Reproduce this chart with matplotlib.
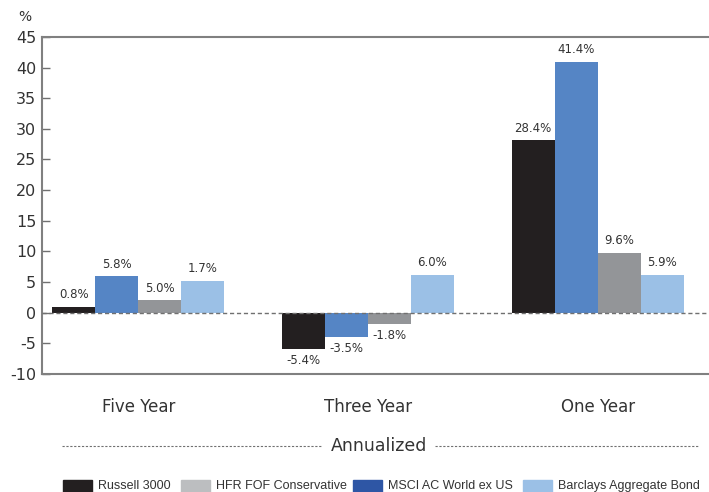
import matplotlib
matplotlib.use('Agg')
import numpy as np
import matplotlib.pyplot as plt
from matplotlib.patches import Rectangle
from matplotlib.lines import Line2D

# data (bar heights) and printed labels
periods = ['Five Year', 'Three Year', 'One Year']
series = ['Russell 3000', 'MSCI AC World ex US', 'HFR FOF Conservative', 'Barclays Aggregate Bond']
russell = [1.0, -5.9, 28.1]
msci = [5.9, -3.9, 40.9]
hfr = [2.0, -1.8, 9.8]
barclays = [5.2, 6.2, 6.2]
russell_lbl = ['0.8%', '-5.4%', '28.4%']
msci_lbl = ['5.8%', '-3.5%', '41.4%']
hfr_lbl = ['5.0%', '-1.8%', '9.6%']
barclays_lbl = ['1.7%', '6.0%', '5.9%']

bar_colors = ['#231f20', '#5585c5', '#939598', '#9bc0e6']
legend_order = ['Russell 3000', 'HFR FOF Conservative', 'MSCI AC World ex US', 'Barclays Aggregate Bond']
legend_colors = ['#231f20', '#bcbec0', '#2e56a5', '#9bc0e6']

plt.rcParams['font.family'] = ['DejaVu Sans']
plt.rcParams['axes.unicode_minus'] = False

W, H = 709, 492
fig = plt.figure(figsize=(W / 100, H / 100), dpi=100)
ax = fig.add_axes([0.059, 0.24, 0.941, 0.685])

x = np.arange(len(periods))
w = 0.187
vals = [russell, msci, hfr, barclays]
lbls = [russell_lbl, msci_lbl, hfr_lbl, barclays_lbl]
for i in range(4):
    bars = ax.bar(x + (i - 1.5) * w, vals[i], w, color=bar_colors[i], zorder=2)
    ax.bar_label(bars, labels=lbls[i], padding=4, fontsize=8.5, color='#333333')

ax.axhline(0, color='#707070', lw=1, ls=(0, (3, 2)), zorder=3)
ax.set_ylim(-10, 45)
ax.set_xlim(-0.42, 2.485)
ax.set_yticks(range(-10, 46, 5))
ax.tick_params(axis='y', direction='in', length=6, width=1, color='#707070', labelsize=11.5, labelcolor='#333333', pad=4)
ax.set_xticks(x)
ax.set_xticklabels(periods)
ax.tick_params(axis='x', length=0, pad=17, labelsize=12, labelcolor='#333333')
for s in ['left', 'top', 'bottom']:
    ax.spines[s].set_color('#808080')
    ax.spines[s].set_linewidth(1.5)
ax.spines['right'].set_visible(False)

fig.text(0.035, 0.965, '%', fontsize=10, color='#333333', ha='center', va='center')

# "Annualized" separator
fig.text(0.535, 0.093, 'Annualized', fontsize=12.5, color='#333333', ha='center', va='center')
fig.add_artist(Line2D([62 / W, 322 / W], [0.093, 0.093], color='#707070', lw=0.8, ls=(0, (2, 1.5))))
fig.add_artist(Line2D([435 / W, 698 / W], [0.093, 0.093], color='#707070', lw=0.8, ls=(0, (2, 1.5))))

# legend row, drawn by hand to keep the reference spacing
patch_x = [63, 181, 353, 523]
ly = 486
for px, c, name in zip(patch_x, legend_colors, legend_order):
    fig.add_artist(Rectangle((px / W, (H - ly - 6) / H), 29 / W, 12 / H, color=c, transform=fig.transFigure))
    fig.text((px + 35) / W, (H - ly) / H, name, fontsize=9, color='#333333', ha='left', va='center',
             family=['Liberation Sans', 'DejaVu Sans'])

fig.savefig('out.png', dpi=100)
